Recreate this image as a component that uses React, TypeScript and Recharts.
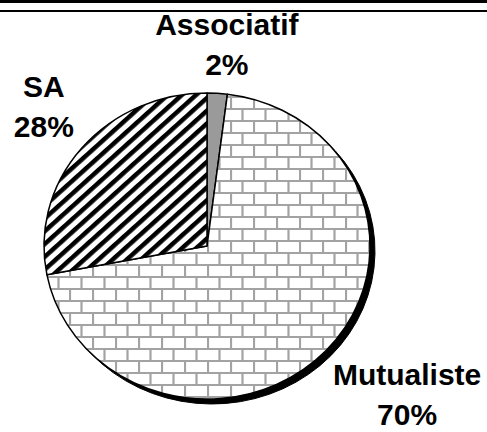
import { Cell, Pie, PieChart } from "recharts";

// legal status of the companies, share in %
const categories = ["Associatif", "Mutualiste", "SA"];
const shares = [2, 70, 28];

const sliceFills = ["#9a9a9a", "url(#brick)", "url(#hatch)"];

const WIDTH = 487;
const HEIGHT = 432;
const CX = 207;
const CY = 246;
const RADIUS = 163;
const SQUASH = 153 / 163; // the pie is drawn slightly flattened
const SHADOW = 5;

const FONT_SIZE = 30;
const FONT_FAMILY = "'Liberation Sans', Arial, Helvetica, sans-serif";
const CAP = 21.5;
const LINE = 40;
const LABEL_KX = 1.06;
const LABEL_KY = 1.12;

const RAD = Math.PI / 180;

const data = categories.map((name, i) => ({ name, value: shares[i] }));

const measure = (() => {
    const ctx = typeof document !== "undefined" ? document.createElement("canvas").getContext("2d") : null;
    if (ctx) ctx.font = `bold ${FONT_SIZE}px ${FONT_FAMILY}`;
    return (s: string) => (ctx ? ctx.measureText(s).width : s.length * FONT_SIZE * 0.55);
})();

function ellipsePoint(cx: number, cy: number, r: number, angle: number) {
    return [cx + r * Math.cos(-angle * RAD), cy + r * SQUASH * Math.sin(-angle * RAD)];
}

function EllipseSector(props: any) {
    const { cx, cy, outerRadius, startAngle, endAngle, fill, stroke, strokeWidth } = props;
    const [x0, y0] = ellipsePoint(cx, cy, outerRadius, startAngle);
    const [x1, y1] = ellipsePoint(cx, cy, outerRadius, endAngle);
    const delta = endAngle - startAngle;
    const large = Math.abs(delta) > 180 ? 1 : 0;
    const sweep = delta < 0 ? 1 : 0;
    const d = `M${cx},${cy} L${x0},${y0} A${outerRadius},${outerRadius * SQUASH} 0 ${large} ${sweep} ${x1},${y1} Z`;
    return <path d={d} fill={fill} stroke={stroke} strokeWidth={strokeWidth} strokeLinejoin="round" />;
}

function renderLabel(props: any) {
    const { cx, cy, midAngle, outerRadius, name, percent } = props;
    const lines = [name, `${Math.round(percent * 100)}%`];
    const w = Math.max(...lines.map(measure));
    const h = CAP + LINE;
    const cos = Math.cos(-midAngle * RAD);
    const sin = Math.sin(-midAngle * RAD);
    const clamp = (v: number) => Math.max(-1, Math.min(1, v * 2));
    const px = cx + LABEL_KX * outerRadius * cos + (w / 2) * clamp(cos);
    const py = cy + LABEL_KY * outerRadius * SQUASH * sin + (h / 2) * clamp(sin);
    const top = py - h / 2;
    return (
        <text textAnchor="middle" fontFamily={FONT_FAMILY} fontWeight="bold" fontSize={FONT_SIZE} fill="#000">
            {lines.map((l, i) => (
                <tspan key={i} x={px} y={top + CAP + i * LINE}>{l}</tspan>
            ))}
        </text>
    );
}

export default function App() {
    return (
        <div style={{ position: "absolute", left: 0, top: 0, width: WIDTH, height: HEIGHT, background: "#fff", overflow: "hidden" }}>
            <svg width={0} height={0} style={{ position: "absolute" }}>
                <defs>
                    <pattern id="brick" width={23} height={24} patternUnits="userSpaceOnUse">
                        <rect width={23} height={24} fill="#fff" />
                        <path d="M0 1H23 M0 13H23 M1 0V13 M12.5 13V24" stroke="#a3a3a3" strokeWidth={2.2} fill="none" />
                    </pattern>
                    <pattern id="hatch" width={9.5} height={9.5} patternUnits="userSpaceOnUse" patternTransform="rotate(48)">
                        <rect width={9.5} height={9.5} fill="#fff" />
                        <rect width={4.5} height={9.5} fill="#000" />
                    </pattern>
                </defs>
            </svg>
            <div style={{ position: "absolute", left: 0, top: 0, width: WIDTH, height: 3, background: "#000" }} />
            <div style={{ position: "absolute", left: 0, top: 10, width: WIDTH, height: 2, background: "#000" }} />
            <PieChart width={WIDTH} height={HEIGHT} margin={{ top: 0, right: 0, bottom: 0, left: 0 }}>
                <Pie
                    data={data}
                    dataKey="value"
                    cx={CX + SHADOW}
                    cy={CY + SHADOW}
                    outerRadius={RADIUS}
                    startAngle={90}
                    endAngle={-270}
                    fill="#000"
                    stroke="#000"
                    strokeWidth={1}
                    shape={EllipseSector}
                    activeShape={EllipseSector}
                    inactiveShape={EllipseSector}
                    label={false}
                    labelLine={false}
                    isAnimationActive={false}
                />
                <Pie
                    data={data}
                    dataKey="value"
                    cx={CX}
                    cy={CY}
                    outerRadius={RADIUS}
                    startAngle={90}
                    endAngle={-270}
                    stroke="#000"
                    strokeWidth={1.5}
                    shape={EllipseSector}
                    activeShape={EllipseSector}
                    inactiveShape={EllipseSector}
                    label={renderLabel}
                    labelLine={false}
                    isAnimationActive={false}
                >
                    {data.map((d, i) => (
                        <Cell key={d.name} fill={sliceFills[i]} />
                    ))}
                </Pie>
            </PieChart>
        </div>
    );
}
